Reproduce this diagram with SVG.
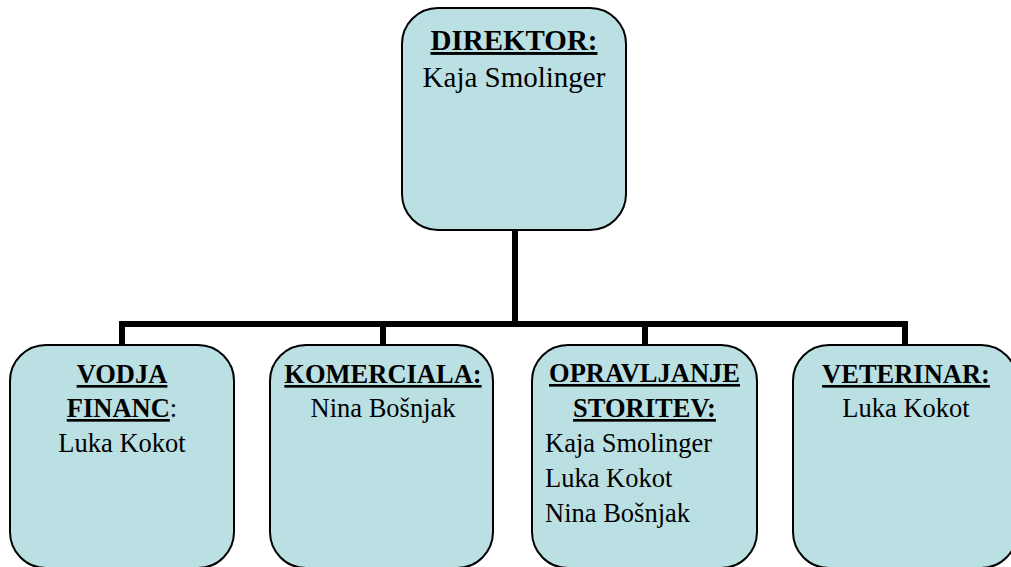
<svg xmlns="http://www.w3.org/2000/svg" width="1011" height="567" viewBox="0 0 1011 567">
<style>
.box{fill:#bae0e3;stroke:#000;stroke-width:2}
text{font-family:'Liberation Serif','DejaVu Serif',serif;fill:#000}
.h{font-weight:bold;text-decoration:underline}
.big{font-size:29px}
.sm{font-size:26.5px}
.c{text-anchor:middle}
.conn{fill:none;stroke:#000;stroke-width:6;stroke-linejoin:miter;stroke-linecap:square}
</style>
<rect width="1011" height="567" fill="#fff"/>
<g id="connectors">
<path class="conn" d="M515 231 V324"/>
<path class="conn" d="M122 345 V324 H905 V345"/>
<path class="conn" d="M383 324 V345"/>
<path class="conn" d="M645 324 V345"/>
</g>
<g id="direktor">
<rect class="box" x="402" y="8" width="224" height="222" rx="36" ry="36"/>
<text class="big c h" x="514" y="50">DIREKTOR:</text>
<text class="big c" x="514" y="87">Kaja Smolinger</text>
</g>
<g id="vodja-financ">
<rect class="box" x="10" y="345" width="224" height="223" rx="36" ry="36"/>
<text class="sm c h" x="122" y="383">VODJA</text>
<text class="sm c" x="122" y="417"><tspan class="h">FINANC</tspan>:</text>
<text class="sm c" x="122" y="452">Luka Kokot</text>
</g>
<g id="komerciala">
<rect class="box" x="270" y="345" width="223" height="223" rx="36" ry="36"/>
<text class="sm c h" x="383" y="383">KOMERCIALA:</text>
<text class="sm c" x="383" y="417">Nina Bošnjak</text>
</g>
<g id="opravljanje-storitev">
<rect class="box" x="532" y="345" width="225" height="223" rx="36" ry="36"/>
<text class="sm c h" x="644.5" y="382">OPRAVLJANJE</text>
<text class="sm c h" x="644.5" y="417">STORITEV:</text>
<text class="sm" x="545" y="452">Kaja Smolinger</text>
<text class="sm" x="545" y="487">Luka Kokot</text>
<text class="sm" x="545" y="522">Nina Bošnjak</text>
</g>
<g id="veterinar">
<rect class="box" x="793" y="345" width="224" height="223" rx="36" ry="36"/>
<text class="sm c h" x="906" y="383">VETERINAR:</text>
<text class="sm c" x="906" y="417">Luka Kokot</text>
</g>
</svg>
